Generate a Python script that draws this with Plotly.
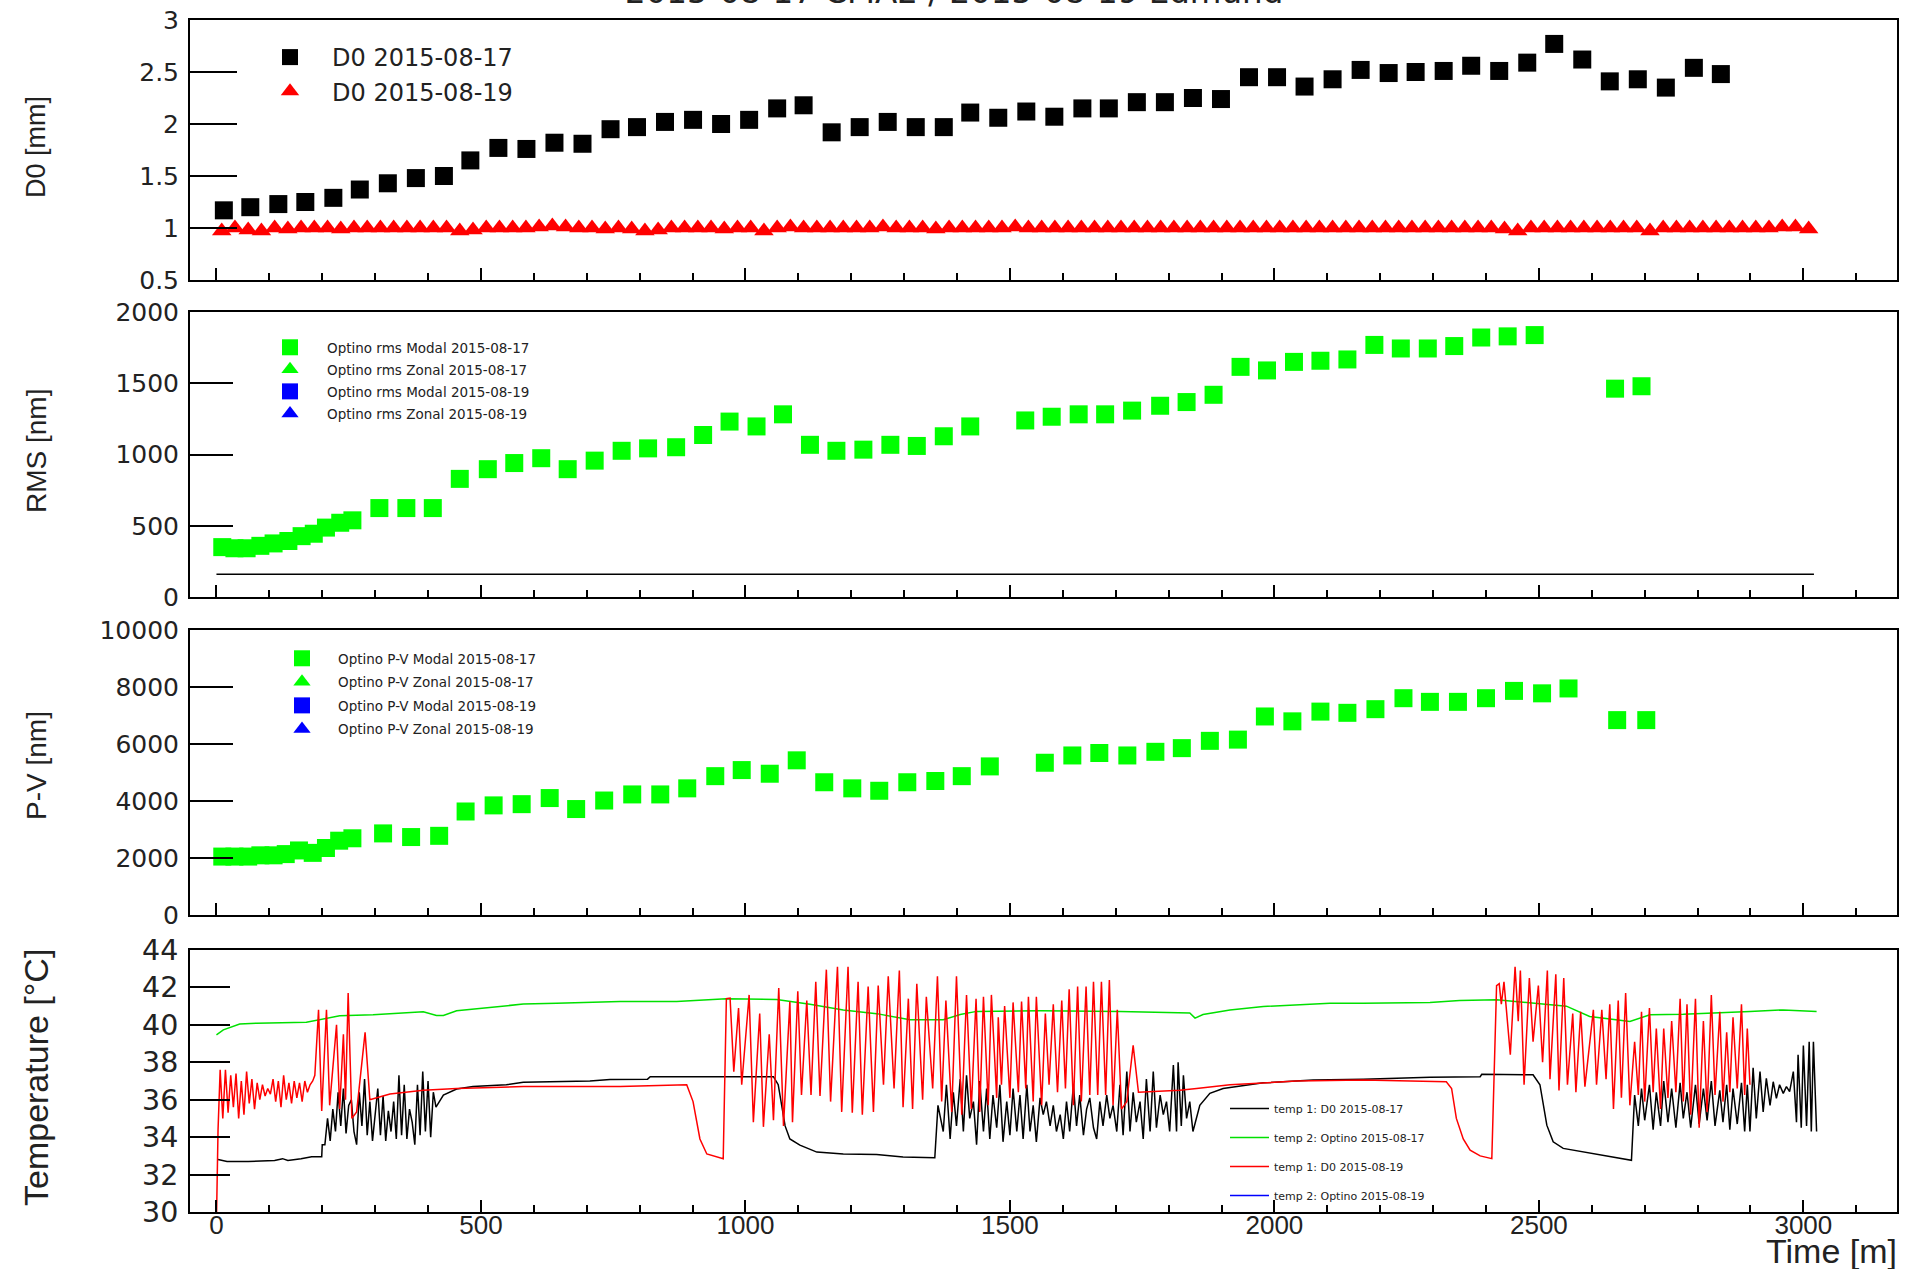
import plotly.graph_objects as go

# ---------------------------------------------------------------------------
# data
# ---------------------------------------------------------------------------

# panel 1 : D0 [mm]
d0_0817_t = [14, 64, 117, 168, 221, 271, 324, 377, 430, 480, 533, 586, 639, 692, 745, 795, 848,
             901, 954, 1007, 1060, 1110, 1163, 1216, 1269, 1322, 1375, 1425, 1478, 1531, 1584,
             1637, 1687, 1740, 1793, 1846, 1899, 1952, 2005, 2057, 2110, 2163, 2216, 2267, 2320,
             2372, 2425, 2478, 2529, 2582, 2634, 2687, 2740, 2793, 2844]
d0_0817_mm = [1.17, 1.20, 1.23, 1.25, 1.29, 1.37, 1.43, 1.48, 1.50, 1.65, 1.77, 1.76, 1.82, 1.81,
              1.95, 1.97, 2.02, 2.04, 2.00, 2.04, 2.15, 2.18, 1.92, 1.97, 2.02, 1.97, 1.97, 2.11,
              2.06, 2.12, 2.07, 2.15, 2.15, 2.21, 2.21, 2.25, 2.24, 2.45, 2.45, 2.36, 2.43, 2.52,
              2.49, 2.50, 2.51, 2.56, 2.51, 2.59, 2.77, 2.62, 2.41, 2.43, 2.35, 2.54, 2.48]

d0_0819_t = [10, 35, 60, 85, 110, 135, 160, 185, 210, 235, 260, 285, 310, 335, 360, 385, 410, 435,
             460, 485, 510, 535, 560, 585, 610, 635, 660, 685, 710, 735, 760, 785, 810, 835, 860,
             885, 910, 935, 960, 985, 1010, 1035, 1060, 1085, 1110, 1135, 1160, 1185, 1210, 1235,
             1260, 1285, 1310, 1335, 1360, 1385, 1410, 1435, 1460, 1485, 1510, 1535, 1560, 1585,
             1610, 1635, 1660, 1685, 1710, 1735, 1760, 1785, 1810, 1835, 1860, 1885, 1910, 1935,
             1960, 1985, 2010, 2035, 2060, 2085, 2110, 2135, 2160, 2185, 2210, 2235, 2260, 2285,
             2310, 2335, 2360, 2385, 2410, 2435, 2460, 2485, 2510, 2535, 2560, 2585, 2610, 2635,
             2660, 2685, 2710, 2735, 2760, 2785, 2810, 2835, 2860, 2885, 2910, 2935, 2960, 2985,
             3010]
d0_0819_mm = [0.97, 1.00, 0.98, 0.97, 1.00, 0.99, 1.00, 1.00, 1.00, 0.99,
              1.00, 1.00, 1.00, 1.00, 1.00, 1.00, 1.00, 1.00, 0.97, 0.98,
              1.00, 1.00, 1.00, 1.00, 1.01, 1.02, 1.01, 1.00, 1.00, 0.99,
              1.00, 0.99, 0.97, 0.98, 1.00, 1.00, 1.00, 1.00, 0.99, 1.00,
              1.00, 0.97, 1.00, 1.01, 1.00, 1.00, 1.00, 1.00, 1.00, 1.00,
              1.01, 1.00, 1.00, 1.00, 0.99, 1.00, 1.00, 1.00, 1.00, 1.00,
              1.01, 1.00, 1.00, 1.00, 1.00, 1.00, 1.00, 1.00, 1.00, 1.00,
              1.00, 1.00, 1.00, 1.00, 1.00, 1.00, 1.00, 1.00, 1.00, 1.00,
              1.00, 1.00, 1.00, 1.00, 1.00, 1.00, 1.00, 1.00, 1.00, 1.00,
              1.00, 1.00, 1.00, 1.00, 1.00, 1.00, 1.00, 0.99, 0.97, 1.00,
              1.00, 1.00, 1.00, 1.00, 1.00, 1.00, 1.00, 1.00, 0.97, 1.00,
              1.00, 1.00, 1.00, 1.00, 1.00, 1.00, 1.00, 1.00, 1.01, 1.01, 0.99]

# panel 2 : RMS [nm]
rms_0817_t = [11, 34, 57, 83, 108, 136, 161, 184, 207, 234, 257, 308, 359, 409, 460, 513, 563,
              614, 664, 715, 766, 816, 869, 920, 970, 1021, 1071, 1122, 1172, 1223, 1274, 1324,
              1375, 1425, 1529, 1579, 1630, 1680, 1731, 1784, 1834, 1885, 1936, 1986, 2037, 2087,
              2138, 2189, 2239, 2290, 2340, 2391, 2441, 2492, 2644, 2694]
rms_0817_nm = [350, 342, 342, 359, 376, 393, 427, 444, 487, 521, 538, 624, 624, 624, 829, 897,
               940, 974, 897, 957, 1026, 1043, 1051, 1137, 1231, 1197, 1282, 1068, 1026, 1034,
               1068, 1060, 1128, 1197, 1239, 1265, 1282, 1282, 1308, 1342, 1368, 1419, 1615, 1590,
               1650, 1658, 1667, 1769, 1744, 1744, 1761, 1821, 1829, 1838, 1462, 1479]
rms_ref_t = [0, 3020]
rms_ref_nm = [160, 160]

# panel 3 : P-V [nm]
pv_0817_t = [11, 34, 60, 83, 108, 131, 156, 182, 207, 232, 257, 315, 368, 421, 471, 524, 577,
             630, 680, 733, 786, 839, 890, 943, 993, 1046, 1097, 1149, 1202, 1253, 1306, 1359,
             1409, 1462, 1566, 1618, 1669, 1722, 1775, 1825, 1878, 1931, 1982, 2034, 2087, 2138,
             2191, 2244, 2294, 2347, 2400, 2453, 2506, 2556, 2648, 2703]
pv_0817_nm = [2050, 2050, 2050, 2094, 2094, 2137, 2265, 2180, 2350, 2607, 2692, 2863, 2735, 2778,
              3632, 3846, 3889, 4103, 3718, 4017, 4231, 4231, 4444, 4872, 5085, 4957, 5427, 4658,
              4444, 4359, 4658, 4701, 4872, 5214, 5342, 5598, 5684, 5598, 5726, 5855, 6111, 6154,
              6966, 6795, 7137, 7094, 7222, 7607, 7479, 7479, 7607, 7863, 7778, 7949, 6838, 6838]

# panel 4 : temperatures [deg C]
temp1_0817_t = [3, 20, 60, 110, 125, 135, 160, 180, 199,
                200, 205, 210, 215, 220, 225, 230, 235, 240, 245, 250, 255, 260, 265, 270, 275,
                280, 285, 290, 295, 300, 305, 310, 315, 320, 325, 330, 335, 340, 345, 350, 355,
                360, 365, 370, 375, 380, 385, 390, 395, 400, 405, 410, 415,
                429, 454, 485, 548, 580, 643, 706, 744, 815, 820, 1053, 1062, 1068, 1075, 1084,
                1103, 1135, 1185, 1248, 1298, 1358,
                1364, 1374, 1380, 1387, 1393, 1399, 1406, 1412, 1418, 1424, 1431, 1437, 1443,
                1450, 1456, 1462, 1468, 1475, 1481, 1487, 1494, 1500, 1506, 1513, 1519, 1525,
                1532, 1538, 1544, 1550, 1557, 1563, 1569, 1576, 1582, 1588, 1595, 1601, 1607,
                1613, 1620, 1626, 1632, 1639, 1645, 1651, 1658, 1664, 1670, 1676, 1683, 1689,
                1695, 1702, 1708, 1714, 1721, 1727, 1733, 1739, 1746, 1752, 1758, 1765, 1771,
                1777, 1784, 1790, 1796, 1802, 1809, 1815, 1818, 1824, 1828, 1834, 1840, 1846,
                1859, 1878, 1903, 1979, 2073, 2168, 2294, 2389, 2392, 2489, 2502, 2515, 2527,
                2546, 2584, 2634, 2675, 2681,
                2688, 2694, 2700, 2709, 2716, 2722, 2730, 2736, 2744, 2751, 2759, 2767, 2773,
                2780, 2787, 2796, 2803, 2811, 2818, 2826, 2833, 2842, 2848, 2855, 2861, 2867,
                2875, 2883, 2889, 2894, 2899,
                2905, 2911, 2918, 2924, 2930, 2937, 2943, 2949, 2955, 2962, 2968, 2974, 2981,
                2987, 2990, 2996, 3000, 3006, 3011, 3015, 3019, 3025]
temp1_0817_c = [32.8, 32.7, 32.7, 32.75, 32.85, 32.75, 32.85, 32.95, 32.95,
                33.6, 33.6, 35.0, 33.8, 35.5, 34.3, 36.4, 34.6, 36.6, 34.2, 35.7, 36.0, 34.3, 33.6,
                36.4, 34.6, 37.1, 34.1, 35.9, 33.8, 35.2, 36.6, 34.1, 36.2, 33.8, 35.4, 34.3, 35.9,
                33.9, 37.3, 34.1, 36.8, 33.9, 35.5, 34.8, 33.6, 36.8, 34.1, 37.5, 34.3, 37.0, 34.0,
                36.4, 35.6,
                36.25, 36.57, 36.7, 36.8, 36.93, 36.96, 37.0, 37.08, 37.1, 37.23, 37.23, 36.8, 35.7,
                34.6, 33.9, 33.57, 33.2, 33.1, 33.07, 32.94, 32.9,
                35.7, 34.3, 36.8, 33.9, 36.4, 34.6, 37.1, 34.3, 37.3, 35.0, 35.9, 33.6, 37.0, 34.3,
                36.6, 33.9, 36.25, 34.5, 36.8, 33.75, 35.9, 34.1, 36.6, 34.3, 36.25, 33.9, 36.8,
                34.3, 35.7, 33.75, 36.1, 35.2, 35.9, 34.6, 35.7, 34.3, 35.2, 33.9, 35.9, 34.3,
                36.8, 34.6, 36.25, 34.1, 35.5, 36.1, 34.5, 33.9, 35.9, 34.6, 36.25, 35.0, 35.7,
                34.3, 36.8, 34.1, 37.5, 34.3, 36.4, 34.8, 35.9, 33.9, 37.1, 34.3, 37.5, 34.5,
                36.25, 35.2, 35.9, 34.3, 37.85, 34.3, 38.0, 34.6, 37.3, 35.0, 35.9, 34.3,
                35.7, 36.34, 36.6, 36.9, 37.05, 37.1, 37.2, 37.23, 37.36, 37.33, 36.8, 34.64,
                33.75, 33.4, 33.2, 32.94, 32.76, 36.25,
                34.6, 36.6, 34.9, 36.8, 34.4, 36.4, 34.6, 37.0, 34.8, 36.6, 34.5, 36.9, 35.0,
                36.4, 34.5, 36.8, 34.7, 36.6, 34.9, 37.0, 34.6, 36.5, 34.8, 36.8, 34.4, 36.6,
                34.7, 36.9, 34.3, 36.8, 34.3,
                37.7, 35.0, 37.5, 35.35, 37.14, 35.7, 36.96, 36.07, 36.8, 36.34, 36.7, 36.43,
                37.5, 34.8, 38.4, 34.5, 38.9, 34.6, 39.1, 34.3, 39.1, 34.3]

temp2_0817_t = [0, 13, 44, 76, 170, 233, 296, 359, 391, 416, 429, 454, 517, 580, 643, 763, 870,
                964, 1059, 1122, 1185, 1248, 1311, 1374, 1406, 1437, 1557, 1708, 1840, 1850, 1865,
                1916, 1979, 2042, 2105, 2168, 2294, 2350, 2420, 2552, 2596, 2672, 2710, 2773,
                2836, 2899, 2962, 3025]
temp2_0817_c = [39.47, 39.73, 40.04, 40.09, 40.14, 40.48, 40.54, 40.63, 40.7, 40.5, 40.5, 40.75,
                40.93, 41.11, 41.16, 41.25, 41.25, 41.4, 41.35, 41.1, 40.8, 40.6, 40.27, 40.27,
                40.55, 40.72, 40.75, 40.72, 40.63, 40.36, 40.55, 40.8, 40.98, 41.07, 41.16,
                41.16, 41.2, 41.3, 41.34, 41.0, 40.45, 40.18, 40.54, 40.57, 40.63, 40.72, 40.8,
                40.72]

temp1_0819_t = [0, 3, 7, 12, 17, 22, 27, 32, 37, 42, 47, 52, 57, 62, 67, 72, 77, 82, 87, 92, 97,
                102, 107, 112, 117, 122, 127, 132, 137, 142, 147, 152, 157, 162, 167, 172, 177,
                182, 186, 193, 199, 208, 214, 227, 233, 240, 244, 249, 256, 265, 281, 290, 303,
                328, 391, 454, 580, 763, 889, 901, 914, 927, 958, 964,
                971, 978, 987, 993, 1007, 1015, 1027, 1034, 1045, 1053, 1063, 1072, 1084, 1089,
                1099, 1106, 1116, 1124, 1133, 1141, 1153, 1161, 1174, 1182, 1194, 1202, 1213,
                1221, 1232, 1242, 1251, 1261, 1270, 1281, 1291, 1298, 1308, 1316, 1324, 1335,
                1342, 1354, 1363, 1371, 1379, 1390, 1399, 1409, 1418, 1427, 1436, 1443, 1450,
                1459, 1465, 1475, 1478, 1484, 1490, 1500, 1506, 1516, 1522, 1530, 1535, 1544,
                1550, 1560, 1567, 1574, 1582, 1590, 1598, 1605, 1612, 1620, 1628, 1635, 1644,
                1651, 1658, 1666, 1673, 1681, 1688, 1695, 1703, 1711, 1721, 1733, 1743,
                1821, 1853, 1916, 2042, 2168, 2325, 2335, 2344, 2357, 2370, 2389, 2411, 2420,
                2425, 2429, 2434, 2446, 2455, 2461, 2465, 2472, 2482, 2489, 2499, 2507, 2516,
                2521, 2532, 2538, 2547, 2554, 2564, 2570, 2579, 2587, 2603, 2609, 2619, 2627,
                2634, 2641, 2650, 2656, 2664, 2672, 2681, 2688, 2694, 2700, 2709, 2716, 2722,
                2730, 2736, 2744, 2751, 2759, 2767, 2773, 2780, 2787, 2796, 2803, 2811, 2818,
                2826, 2833, 2842, 2848, 2855, 2861, 2867, 2875, 2883, 2889, 2894, 2899]
temp1_0819_c = [29.5, 34.4, 37.6, 35.0, 37.6, 35.3, 37.3, 35.6, 37.4, 35.0, 37.0, 35.2, 37.5,
                35.8, 37.1, 35.5, 36.9, 36.0, 36.8, 36.2, 36.6, 36.3, 37.1, 35.9, 37.0, 35.6,
                37.3, 36.0, 36.9, 35.8, 37.0, 36.1, 36.9, 35.9, 37.0, 36.4, 36.8, 37.0, 37.3,
                40.8, 35.4, 40.8, 35.7, 40.0, 35.5, 39.5, 36.0, 41.7, 35.0, 35.35, 39.6, 36.0,
                36.1, 36.3, 36.5, 36.6, 36.7, 36.7, 36.8, 35.9, 33.9, 33.1, 32.85, 41.4,
                41.43, 37.5, 40.9, 36.8, 41.6, 34.8, 40.6, 34.55, 39.5, 34.9, 41.97, 34.6, 41.25,
                34.8, 41.8, 36.25, 41.3, 36.25, 42.3, 36.2, 42.95, 35.9, 43.1, 35.35, 43.1, 35.3,
                42.3, 35.2, 42.05, 35.35, 42.1, 36.8, 42.6, 36.6, 42.9, 35.6, 41.4, 35.5, 42.2,
                36.0, 41.5, 36.6, 42.6, 35.9, 41.3, 35.35, 42.6, 35.2, 41.6, 35.5, 41.4, 35.35,
                41.5, 35.7, 41.6, 36.1, 40.4, 36.8, 41.0, 36.1, 41.2, 36.4, 41.25, 36.6, 41.5,
                35.9, 41.5, 35.7, 40.6, 36.8, 41.1, 36.4, 41.3, 36.6, 41.9, 35.7, 42.05, 35.9,
                42.05, 36.25, 42.3, 36.25, 42.3, 36.25, 42.4, 35.7, 40.8, 35.5, 35.9, 38.9, 36.4,
                36.5, 36.6, 36.8, 37.0, 37.05, 36.96, 36.6, 35.0, 33.9, 33.3, 33.0, 32.85, 42.1,
                42.2, 41.1, 42.3, 38.4, 43.1, 40.2, 42.9, 36.8, 42.5, 39.1, 42.1, 38.0, 42.9,
                37.1, 42.7, 36.5, 42.5, 36.8, 40.6, 36.4, 40.7, 36.7, 40.8, 36.8, 40.8, 37.1,
                41.1, 35.5, 41.3, 36.1, 41.7, 35.7, 39.1, 36.25, 40.7, 35.9, 40.9, 36.4, 39.8,
                35.5, 39.8, 36.1, 40.2, 36.4, 41.4, 35.9, 41.1, 35.2, 41.4, 34.5, 40.2, 35.35,
                41.6, 36.25, 40.7, 35.9, 39.6, 36.4, 40.4, 36.6, 41.1, 36.25, 39.8, 36.8]

# ---------------------------------------------------------------------------
# page geometry (pixels)
# ---------------------------------------------------------------------------
W, H = 1907, 1269
L, R, T, B = 190, 10, 20, 57
PW, PH = W - L - R, H - T - B

FONT = "Liberation Sans, Arial, sans-serif"      # rotated titles, x labels
WIDE = "DejaVu Sans, Verdana, sans-serif"         # horizontal texts of the canvas
TXT = "#222222"


def px_x(X):
    return (X - L) / PW


def px_y(Y):
    return (H - B - Y) / PH


def frame_x(show_labels):
    return dict(
        range=[-50, 3177], showline=True, mirror=True, linecolor="black", linewidth=2,
        ticks="inside", ticklen=12, tickwidth=1.5, tickcolor="black", tick0=0, dtick=500,
        minor=dict(ticks="inside", ticklen=7, dtick=100, tickcolor="black", tickwidth=1.5),
        showgrid=False, zeroline=False, showticklabels=show_labels, tickformat="d",
        tickfont=dict(family=FONT, size=26, color=TXT), ticklabelstandoff=-11,
        automargin=False,
    )


def frame_y(rng, dtick, ticklen, size, dom):
    return dict(
        range=rng, dtick=dtick, tick0=rng[0], domain=dom, showline=True, mirror=True,
        linecolor="black", linewidth=2, ticks="inside", ticklen=ticklen, tickwidth=1.5,
        tickcolor="black", showgrid=False, zeroline=False, tickformat="",
        tickfont=dict(family=WIDE, size=size, color=TXT), ticklabelstandoff=4,
        automargin=False,
    )


fig = go.Figure()

# panel 1
fig.add_trace(go.Scatter(x=d0_0817_t, y=d0_0817_mm, mode="markers", name="D0 2015-08-17",
                         marker=dict(symbol="square", size=18, color="black"),
                         xaxis="x", yaxis="y", legend="legend", legendgroup="a"))
fig.add_trace(go.Scatter(x=d0_0819_t, y=d0_0819_mm, mode="markers", name="D0 2015-08-19",
                         marker=dict(symbol="triangle-up", size=17, color="#ff0000"),
                         xaxis="x", yaxis="y", legend="legend", legendgroup="b"))

# panel 2
fig.add_trace(go.Scatter(x=rms_ref_t, y=rms_ref_nm, mode="lines", showlegend=False,
                         line=dict(color="black", width=1.5), xaxis="x2", yaxis="y2"))
fig.add_trace(go.Scatter(x=rms_0817_t, y=rms_0817_nm, mode="markers",
                         name="Optino rms Modal 2015-08-17",
                         marker=dict(symbol="square", size=18, color="#00ff00"),
                         xaxis="x2", yaxis="y2", legend="legend2", legendgroup="c"))
fig.add_trace(go.Scatter(x=[None], y=[None], mode="markers", name="Optino rms Zonal 2015-08-17",
                         marker=dict(symbol="triangle-up", size=15, color="#00ff00"),
                         xaxis="x2", yaxis="y2", legend="legend2", legendgroup="d"))
fig.add_trace(go.Scatter(x=[None], y=[None], mode="markers", name="Optino rms Modal 2015-08-19",
                         marker=dict(symbol="square", size=18, color="#0000ff"),
                         xaxis="x2", yaxis="y2", legend="legend2", legendgroup="e"))
fig.add_trace(go.Scatter(x=[None], y=[None], mode="markers", name="Optino rms Zonal 2015-08-19",
                         marker=dict(symbol="triangle-up", size=15, color="#0000ff"),
                         xaxis="x2", yaxis="y2", legend="legend2", legendgroup="f"))

# panel 3
fig.add_trace(go.Scatter(x=pv_0817_t, y=pv_0817_nm, mode="markers",
                         name="Optino P-V Modal 2015-08-17",
                         marker=dict(symbol="square", size=18, color="#00ff00"),
                         xaxis="x3", yaxis="y3", legend="legend3", legendgroup="g"))
fig.add_trace(go.Scatter(x=[None], y=[None], mode="markers", name="Optino P-V Zonal 2015-08-17",
                         marker=dict(symbol="triangle-up", size=15, color="#00ff00"),
                         xaxis="x3", yaxis="y3", legend="legend3", legendgroup="h"))
fig.add_trace(go.Scatter(x=[None], y=[None], mode="markers", name="Optino P-V Modal 2015-08-19",
                         marker=dict(symbol="square", size=18, color="#0000ff"),
                         xaxis="x3", yaxis="y3", legend="legend3", legendgroup="i"))
fig.add_trace(go.Scatter(x=[None], y=[None], mode="markers", name="Optino P-V Zonal 2015-08-19",
                         marker=dict(symbol="triangle-up", size=15, color="#0000ff"),
                         xaxis="x3", yaxis="y3", legend="legend3", legendgroup="j"))

# panel 4
fig.add_trace(go.Scatter(x=temp1_0817_t, y=temp1_0817_c, mode="lines", name="temp 1: D0 2015-08-17",
                         line=dict(color="black", width=1.5),
                         xaxis="x4", yaxis="y4", legend="legend4", legendgroup="k"))
fig.add_trace(go.Scatter(x=temp2_0817_t, y=temp2_0817_c, mode="lines",
                         name="temp 2: Optino 2015-08-17",
                         line=dict(color="#00e000", width=1.5),
                         xaxis="x4", yaxis="y4", legend="legend4", legendgroup="l"))
fig.add_trace(go.Scatter(x=temp1_0819_t, y=temp1_0819_c, mode="lines", name="temp 1: D0 2015-08-19",
                         line=dict(color="#ff0000", width=1.5),
                         xaxis="x4", yaxis="y4", legend="legend4", legendgroup="m"))
fig.add_trace(go.Scatter(x=[None], y=[None], mode="lines", name="temp 2: Optino 2015-08-19",
                         line=dict(color="#0000ff", width=1.5),
                         xaxis="x4", yaxis="y4", legend="legend4", legendgroup="n"))


def legend_box(x, y, size, gap, itemw):
    return dict(x=px_x(x), y=px_y(y), xanchor="left", yanchor="top",
                bgcolor="rgba(0,0,0,0)", borderwidth=0, tracegroupgap=gap,
                itemwidth=itemw, font=dict(family=WIDE, size=size, color=TXT),
                traceorder="grouped")


fig.update_layout(
    width=W, height=H,
    margin=dict(l=L, r=R, t=T, b=B, autoexpand=False),
    paper_bgcolor="white", plot_bgcolor="white",
    font=dict(family=FONT, color=TXT),
    xaxis=dict(frame_x(False), anchor="y"),
    xaxis2=dict(frame_x(False), anchor="y2", matches="x"),
    xaxis3=dict(frame_x(False), anchor="y3", matches="x"),
    xaxis4=dict(frame_x(True), anchor="y4", matches="x"),
    yaxis=dict(frame_y([0.5, 3], 0.5, 47, 25, [px_y(280), px_y(20)]), anchor="x"),
    yaxis2=dict(frame_y([0, 2000], 500, 43, 25, [px_y(597), px_y(312)]), anchor="x2",
                tickformat="d"),
    yaxis3=dict(frame_y([0, 10000], 2000, 43, 25, [px_y(915), px_y(630)]), anchor="x3",
                tickformat="d"),
    yaxis4=dict(frame_y([30, 44], 2, 40, 28.5, [px_y(1212), px_y(950)]), anchor="x4",
                tickformat="d"),
    showlegend=True,
    legend=legend_box(248, 35, 24, 0, 74),
    legend2=legend_box(253, 332, 13.5, 1.5, 64),
    legend3=legend_box(266, 643, 13.5, 3, 62),
    legend4=legend_box(1225, 1094, 11, 10, 39),
)

# title (cut at the top edge, as in the original canvas)
fig.add_annotation(text="2015-08-17 CMA2 / 2015-08-19 Edmund", xref="paper", yref="paper",
                   x=px_x(954), y=1, xanchor="center", yanchor="bottom", yshift=7,
                   showarrow=False, font=dict(family=WIDE, size=32.5, color=TXT))

# axis titles
for label, yc, size in [("D0 [mm]", 147, 27), ("RMS [nm]", 451, 28), ("P-V [nm]", 766, 28),
                        ("Temperature [°C]", 1078, 34)]:
    fig.add_annotation(text=label, xref="paper", yref="paper", x=px_x(36), y=px_y(yc),
                       xanchor="center", yanchor="middle", textangle=-90, showarrow=False,
                       font=dict(family=FONT, size=size, color=TXT))

fig.add_annotation(text="Time [m]", xref="paper", yref="paper", x=px_x(1899), y=px_y(1251),
                   xanchor="right", yanchor="middle", showarrow=False,
                   font=dict(family=FONT, size=34, color=TXT))

# the page body has a default margin; drop it so the canvas sits at the window corner
fig.write_html("out.html", config={"displayModeBar": False},
               post_script="document.body.style.margin='0';")
